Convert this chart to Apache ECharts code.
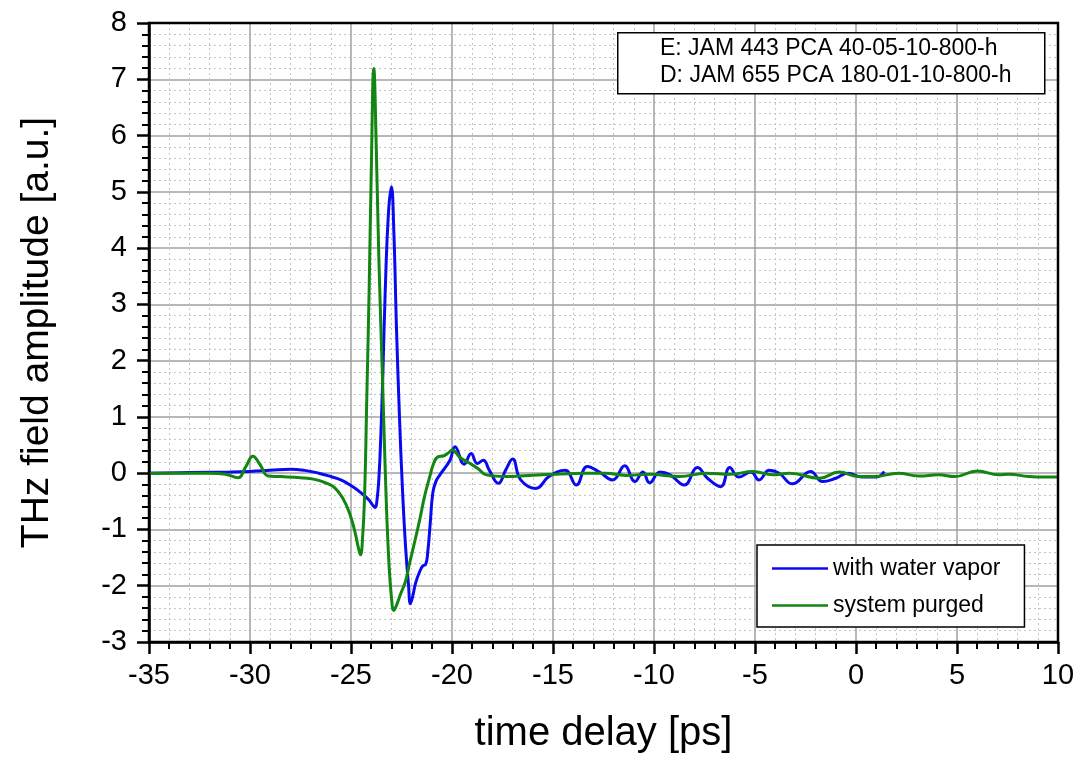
<!DOCTYPE html>
<html>
<head>
<meta charset="utf-8">
<script src="https://cdn.jsdelivr.net/npm/echarts@6/dist/echarts.min.js"></script>
<style>html,body{margin:0;padding:0;background:#fff}#c{width:1083px;height:758px}</style>
</head>
<body>
<div id="c"></div>
<script>
const seriesNames = ['with water vapor', 'system purged'];
const xTickLabels = ['-35','-30','-25','-20','-15','-10','-5','0','5','10'];
const yTickLabels = ['-3','-2','-1','0','1','2','3','4','5','6','7','8'];
const annotationLines = ['E: JAM 443 PCA 40-05-10-800-h', 'D: JAM 655 PCA 180-01-10-800-h'];

const blueX = [-35, -33, -31, -30, -29, -28, -27.3, -26.6, -26, -25.5, -25, -24.5, -24.1, -23.9, -23.8, -23.72, -23.62, -23.52, -23.42, -23.3, -23.15, -23.0, -22.88, -22.75, -22.6, -22.45, -22.3, -22.15, -22.06, -21.95, -21.8, -21.6, -21.45, -21.3, -21.2, -21.08, -20.95, -20.8, -20.6, -20.1, -19.85, -19.4, -19.05, -18.75, -18.45, -18.15, -17.7, -17.35, -17.0, -16.6, -15.85, -15.2, -14.4, -13.85, -13.3, -12.7, -12.05, -11.45, -10.95, -10.55, -10.22, -9.7, -9.2, -8.5, -7.85, -7.35, -6.7, -6.25, -5.8, -5.2, -4.8, -4.3, -3.8, -3.15, -2.25, -1.65, -1.0, -0.4, 0.3, 1.0, 1.4];
const blueY = [0, 0.01, 0.02, 0.03, 0.05, 0.07, 0.05, 0.0, -0.06, -0.12, -0.22, -0.35, -0.48, -0.58, -0.61, -0.5, -0.1, 0.7, 1.8, 3.3, 4.6, 5.09, 4.3, 2.6, 1.0, -0.3, -1.3, -2.0, -2.32, -2.2, -1.95, -1.75, -1.65, -1.62, -1.4, -0.9, -0.35, -0.15, -0.03, 0.23, 0.47, 0.16, 0.35, 0.17, 0.23, 0.05, -0.18, 0.05, 0.25, -0.12, -0.27, -0.06, 0.05, -0.21, 0.12, 0.02, -0.12, 0.13, -0.15, 0.02, -0.17, 0.02, -0.03, -0.21, 0.1, -0.09, -0.24, 0.1, -0.07, 0.02, -0.12, 0.05, 0.0, -0.19, 0.03, -0.15, -0.09, 0.0, -0.07, -0.07, 0.03];

const greenX = [-35, -32, -31.2, -30.6, -30.2, -29.86, -29.5, -29.1, -28.5, -27.5, -26.8, -26.2, -25.8, -25.4, -25.07, -24.8, -24.65, -24.53, -24.42, -24.32, -24.22, -24.1, -24.0, -23.87, -23.75, -23.62, -23.45, -23.3, -23.15, -23.0, -22.88, -22.75, -22.55, -22.3, -22.1, -21.9, -21.6, -21.35, -21.1, -20.9, -20.7, -20.4, -20.15, -20.0, -19.6, -19.14, -18.7, -18.3, -17.3, -16.2, -14.85, -13.5, -12.4, -11.4, -10.2, -8.75, -7.43, -6.2, -5.1, -4.1, -3.3, -1.8, -0.84, 0.15, 0.9, 2.1, 3.1, 4.1, 4.9, 6.0, 7.07, 7.56, 8.55, 9.4, 10];
const greenY = [0, 0.0, -0.02, -0.08, 0.12, 0.30, 0.15, -0.05, -0.06, -0.08, -0.11, -0.18, -0.26, -0.45, -0.71, -1.05, -1.3, -1.45, -1.1, -0.3, 1.3, 3.3, 5.3, 7.19, 5.8, 3.8, 1.8, 0.0, -1.4, -2.2, -2.44, -2.35, -2.15, -1.92, -1.6, -1.3, -0.83, -0.4, -0.06, 0.18, 0.29, 0.31, 0.37, 0.41, 0.28, 0.18, 0.08, -0.03, -0.06, -0.04, -0.02, 0.0, 0.0, -0.04, -0.02, -0.06, 0.0, -0.02, 0.03, -0.03, 0.0, -0.09, 0.02, -0.06, -0.06, 0.0, -0.05, -0.03, -0.06, 0.04, -0.03, -0.02, -0.06, -0.07, -0.07];

const pair = (xs, ys) => xs.map((x, i) => [x, ys[i]]);
const FONT = 'Liberation Sans, Arial, sans-serif';

const chart = echarts.init(document.getElementById('c'), null, {renderer: 'canvas'});
chart.setOption({
  animation: false,
  backgroundColor: '#fff',
  grid: {left: 149, right: 25, top: 23, bottom: 116, containLabel: false, outerBoundsMode: 'none',
    show: true, borderColor: '#000', borderWidth: 2.5, backgroundColor: 'transparent', z: 3},
  xAxis: {
    type: 'value', min: -35, max: 10, interval: 5,
    name: 'time delay [ps]', nameLocation: 'middle', nameGap: 72,
    nameTextStyle: {fontFamily: FONT, fontSize: 40, color: '#000'},
    axisLine: {show: true, onZero: false, lineStyle: {color: '#000', width: 2.5}},
    axisTick: {show: true, inside: false, length: 12, lineStyle: {color: '#000', width: 2.5}},
    minorTick: {show: true, splitNumber: 5, length: 7, lineStyle: {color: '#000', width: 2}},
    axisLabel: {fontFamily: FONT, fontSize: 29, color: '#000', margin: 19,
      formatter: v => xTickLabels[Math.round((v + 35) / 5)] ?? String(v)},
    splitLine: {show: true, lineStyle: {color: '#a0a0a0', width: 1.5}},
    minorSplitLine: {show: true, lineStyle: {color: '#c4c4c4', width: 1, type: [2, 3]}}
  },
  yAxis: {
    type: 'value', min: -3, max: 8, interval: 1,
    name: 'THz field amplitude [a.u.]', nameLocation: 'middle', nameGap: 92,
    nameTextStyle: {fontFamily: FONT, fontSize: 39, color: '#000'},
    axisLine: {show: true, onZero: false, lineStyle: {color: '#000', width: 2.5}},
    axisTick: {show: true, inside: false, length: 12, lineStyle: {color: '#000', width: 2.5}},
    minorTick: {show: true, splitNumber: 5, length: 7, lineStyle: {color: '#000', width: 2}},
    axisLabel: {fontFamily: FONT, fontSize: 29, color: '#000', margin: 22,
      formatter: v => yTickLabels[Math.round(v + 3)] ?? String(v)},
    splitLine: {show: true, lineStyle: {color: '#a0a0a0', width: 1.5}},
    minorSplitLine: {show: true, lineStyle: {color: '#c4c4c4', width: 1, type: [2, 3]}}
  },
  legend: {
    show: true, orient: 'vertical', left: 757, top: 545,
    data: seriesNames,
    itemWidth: 56, itemHeight: 14, itemGap: 14,
    padding: [12, 24, 10, 15],
    borderColor: '#000', borderWidth: 1.5, backgroundColor: '#fff',
    textStyle: {fontFamily: FONT, fontSize: 23, color: '#000'},
    icon: 'path://M0,6 L56,6 L56,8.5 L0,8.5 Z'
  },
  graphic: [
    {type: 'rect', left: 617, top: 32, shape: {width: 427, height: 61}, style: {fill: '#fff', stroke: '#000', lineWidth: 1.5}, z: 10},
    {type: 'text', left: 660, top: 35, style: {text: annotationLines.join('\n'), font: '23px ' + FONT, fill: '#000', lineHeight: 27}, z: 11}
  ],
  series: [
    {name: seriesNames[0], type: 'line', data: pair(blueX, blueY), showSymbol: false, smooth: 0.45,
     lineStyle: {color: '#0a0af0', width: 3}, itemStyle: {color: '#0a0af0'}, z: 2},
    {name: seriesNames[1], type: 'line', data: pair(greenX, greenY), showSymbol: false, smooth: 0.45,
     lineStyle: {color: '#128512', width: 3}, itemStyle: {color: '#128512'}, z: 2}
  ]
});
</script>
</body>
</html>
